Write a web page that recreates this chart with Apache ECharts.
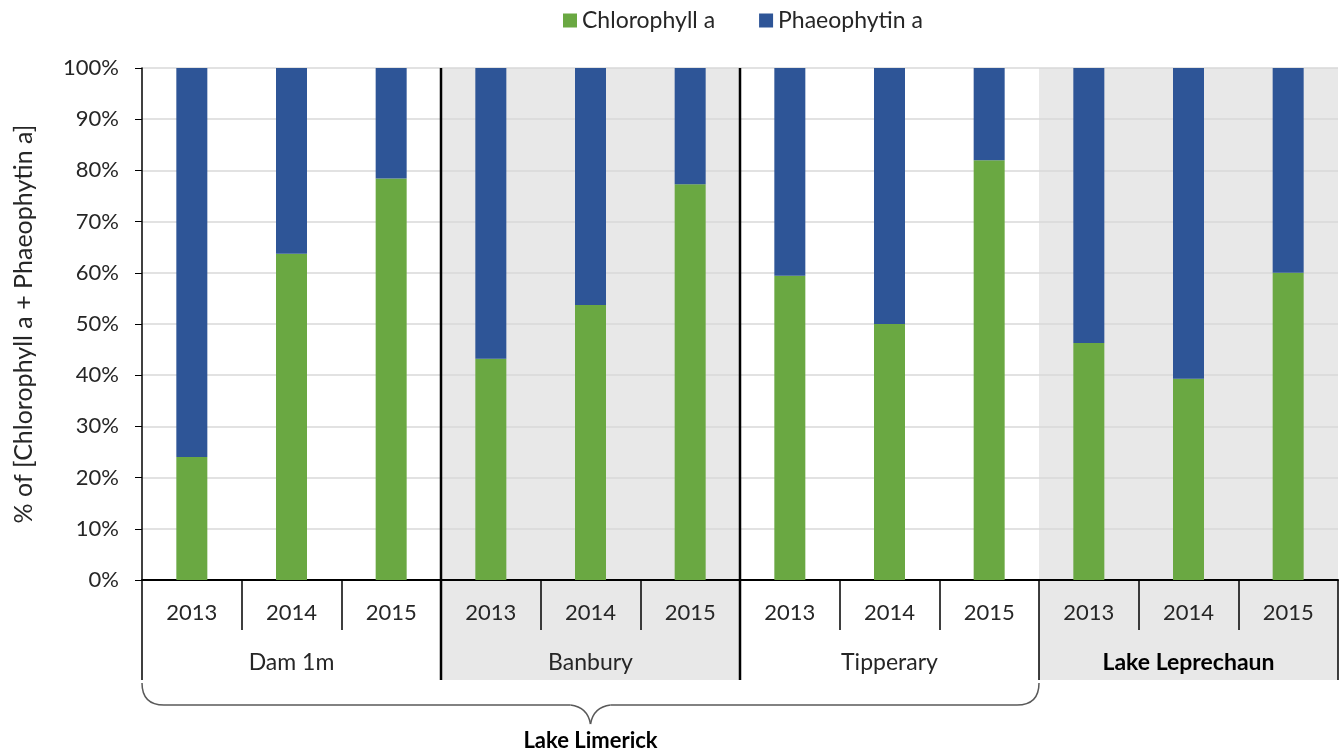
<!DOCTYPE html>
<html>
<head>
<meta charset="utf-8">
<script src="https://cdn.jsdelivr.net/npm/echarts@6/dist/echarts.min.js"></script>
<style>
  html, body { margin: 0; padding: 0; background: #fff; }
  #chart { width: 1343px; height: 753px; }
</style>
</head>
<body>
<div id="chart"></div>
<script>
// years repeated per site
var years = ['2013', '2014', '2015', '2013', '2014', '2015', '2013', '2014', '2015', '2013', '2014', '2015'];
var sites = ['Dam 1m', 'Banbury', 'Tipperary', 'Lake Leprechaun'];
var chlorophyll = [24.0, 63.7, 78.4, 43.2, 53.7, 77.3, 59.4, 50.0, 82.0, 46.3, 39.3, 60.0];
var phaeophytin = [76.0, 36.3, 21.6, 56.8, 46.3, 22.7, 40.6, 50.0, 18.0, 53.7, 60.7, 40.0];
var yTicks = [0, 10, 20, 30, 40, 50, 60, 70, 80, 90, 100];

var font = 'Lato, "Open Sans", sans-serif';
var chart = echarts.init(document.getElementById('chart'));

var option = {
  animation: false,
  textStyle: { fontFamily: font },
  legend: {
    left: 558,
    top: 4,
    itemWidth: 14,
    itemHeight: 14,
    itemGap: 44,
    icon: 'rect',
    textStyle: { fontSize: 23, color: '#262626', fontFamily: font },
    data: ['Chlorophyll a', 'Phaeophytin a']
  },
  grid: { left: 142, right: 5, top: 68, bottom: 173 },
  xAxis: [
    {
      type: 'category',
      data: years,
      position: 'bottom',
      axisLine: { lineStyle: { color: '#000', width: 2 } },
      axisTick: { show: true, length: 50, lineStyle: { color: '#000', width: 1.5 } },
      axisLabel: { fontSize: 22, color: '#262626', margin: 22, fontFamily: font },
      splitLine: { show: false }
    },
    {
      type: 'category',
      data: sites,
      position: 'bottom',
      offset: 50,
      axisLine: { show: false },
      axisTick: { show: true, length: 50, lineStyle: { color: '#000', width: 1.5 } },
      axisLabel: {
        fontSize: 23, color: '#262626', margin: 21, fontFamily: font,
        formatter: function (v) { return v === 'Lake Leprechaun' ? '{b|' + v + '}' : v; },
        rich: { b: { fontSize: 23, fontWeight: 'bold', color: '#000', fontFamily: font } }
      },
      splitLine: { show: false }
    }
  ],
  yAxis: {
    type: 'value',
    min: 0,
    max: 100,
    interval: 10,
    name: '% of [Chlorophyll a + Phaeophytin a]',
    nameLocation: 'middle',
    nameGap: 106,
    nameTextStyle: { fontSize: 25, color: '#262626', fontFamily: font },
    axisLine: { show: true, lineStyle: { color: '#000', width: 1.5 } },
    axisTick: { show: true, length: 7, lineStyle: { color: '#000' } },
    axisLabel: { fontSize: 22, color: '#262626', margin: 23, formatter: '{value}%', fontFamily: font },
    splitLine: { lineStyle: { color: '#d9d9d9', width: 1.5 } }
  },
  series: [
    {
      name: 'Chlorophyll a',
      type: 'bar',
      stack: 'total',
      barWidth: 31,
      itemStyle: { color: '#6aa842' },
      data: chlorophyll
    },
    {
      name: 'Phaeophytin a',
      type: 'bar',
      stack: 'total',
      barWidth: 31,
      itemStyle: { color: '#2e5597' },
      data: phaeophytin
    }
  ]
};
chart.setOption(option);

// decorations: group shading, thick separators, brace under Lake Limerick sites
function addDecor() {
  function boundary(i) {
    var c0 = chart.convertToPixel({ xAxisIndex: 0 }, 0);
    var c1 = chart.convertToPixel({ xAxisIndex: 0 }, 1);
    var band = c1 - c0;
    return c0 - band / 2 + band * i;
  }
  var yTop = chart.convertToPixel({ yAxisIndex: 0 }, 100);
  var yBase = chart.convertToPixel({ yAxisIndex: 0 }, 0);
  var yBottom = yBase + 100;
  var gray = '#e8e8e8';

  var x0 = boundary(0), x3 = boundary(3), x6 = boundary(6), x9 = boundary(9), x12 = boundary(12);
  var mid = (x0 + x9) / 2;
  var by = yBottom + 25, bTop = yBottom + 3, tip = yBottom + 44;
  var braceStyle = { stroke: '#595959', lineWidth: 1.5, fill: null };

  function curve(x1, y1, cx, cy, x2, y2) {
    return { type: 'bezierCurve', z: 50, silent: true,
      shape: { x1: x1, y1: y1, cpx1: cx, cpy1: cy, x2: x2, y2: y2 }, style: braceStyle };
  }
  function seg(x1, y1, x2, y2) {
    return { type: 'line', z: 50, silent: true,
      shape: { x1: x1, y1: y1, x2: x2, y2: y2 }, style: braceStyle };
  }

  chart.setOption({
    graphic: [
      { type: 'rect', z: -10, silent: true, shape: { x: x3, y: yTop, width: x6 - x3, height: yBottom - yTop }, style: { fill: gray } },
      { type: 'rect', z: -10, silent: true, shape: { x: x9, y: yTop, width: x12 - x9, height: yBottom - yTop }, style: { fill: gray } },
      { type: 'line', z: 50, silent: true, shape: { x1: x3, y1: yTop, x2: x3, y2: yBottom }, style: { stroke: '#000', lineWidth: 2.5 } },
      { type: 'line', z: 50, silent: true, shape: { x1: x6, y1: yTop, x2: x6, y2: yBottom }, style: { stroke: '#000', lineWidth: 2.5 } },
      curve(x0, bTop, x0, by, x0 + 22, by),
      seg(x0 + 22, by, mid - 20, by),
      curve(mid - 20, by, mid - 3, by + 2, mid, tip),
      curve(mid, tip, mid + 3, by + 2, mid + 20, by),
      seg(mid + 20, by, x9 - 22, by),
      curve(x9 - 22, by, x9, by, x9, bTop),
      {
        type: 'text', silent: true, x: mid, y: tip + 17,
        style: { text: 'Lake Limerick', fontSize: 22, fontWeight: 'bold', fontFamily: font, fill: '#000', align: 'center', verticalAlign: 'middle' }
      }
    ]
  });
}
addDecor();
</script>
</body>
</html>
